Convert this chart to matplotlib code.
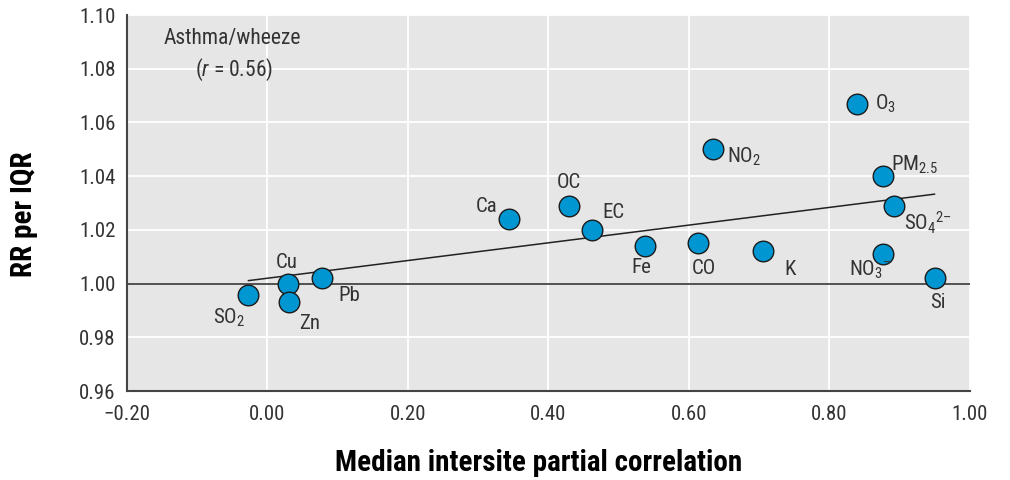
import matplotlib
matplotlib.use("Agg")
import matplotlib.pyplot as plt
from matplotlib import font_manager

names = {f.name for f in font_manager.fontManager.ttflist}
FONT = next((n for n in ["Roboto Condensed", "PT Sans Narrow", "Archivo Narrow",
                         "Liberation Sans"] if n in names), "DejaVu Sans")
plt.rcParams['font.family'] = [FONT, 'DejaVu Sans']
plt.rcParams['mathtext.fontset'] = 'custom'
plt.rcParams['mathtext.rm'] = FONT
plt.rcParams['mathtext.it'] = FONT + ':italic'

# ---- data ----
pollutants = ["SO2", "Cu", "Zn", "Pb", "Ca", "OC", "EC", "Fe", "CO", "NO2", "K",
              "O3", "PM2.5", "SO4", "NO3", "Si"]
labels = ["SO$_2$", "Cu", "Zn", "Pb", "Ca", "OC", "EC", "Fe", "CO", "NO$_2$", "K",
          "O$_3$", "PM$_{2.5}$", "SO$_4$$^{2\u2013}$", "NO$_3$$^{\u2013}$", "Si"]
corr = [-0.027, 0.030, 0.031, 0.078, 0.344, 0.429, 0.462, 0.538, 0.613, 0.634, 0.706,
        0.840, 0.876, 0.892, 0.876, 0.951]
rr = [0.9958, 1.000, 0.993, 1.002, 1.024, 1.029, 1.020, 1.014, 1.015, 1.050, 1.0123,
      1.067, 1.040, 1.029, 1.011, 1.002]
fit_x = [-0.027, 0.950]
fit_y = [1.0011, 1.0333]
xticks = [-0.20, 0.00, 0.20, 0.40, 0.60, 0.80, 1.00]
yticks = [0.96, 0.98, 1.00, 1.02, 1.04, 1.06, 1.08, 1.10]

# label offsets in pixels (layout)
offsets = {"SO2": (-19, -23), "Cu": (-2, 21), "Zn": (20, -21), "Pb": (27, -17),
           "Ca": (-22, 13), "OC": (0, 23), "EC": (22, 17), "Fe": (-4, -22),
           "CO": (6, -25), "NO2": (32, -8), "K": (27, -19), "O3": (28, 0),
           "PM2.5": (32, 11), "SO4": (34, -17), "NO3": (-12, -16), "Si": (3, -24)}

fig = plt.figure(figsize=(10.1, 4.8), dpi=100)
ax = fig.add_axes([0.1257, 0.1854, 0.8343, 0.7833])
ax.set_facecolor("#e6e6e6")
ax.set_xlim(-0.2, 1.0)
ax.set_ylim(0.96, 1.10)
ax.set_xticks(xticks)
ax.set_yticks(yticks)
ax.set_xticklabels(["\u22120.20"] + [f"{v:.2f}" for v in xticks[1:]])
ax.set_yticklabels([f"{v:.2f}" for v in yticks])
ax.tick_params(length=0, labelsize=15, colors="#333333")
ax.tick_params(axis="x", pad=10)
ax.tick_params(axis="y", pad=8)
ax.grid(True, color="white", linewidth=1.3)
ax.set_axisbelow(True)
for s in ["top", "right"]:
    ax.spines[s].set_visible(False)
for s in ["left", "bottom"]:
    ax.spines[s].set_color("#444444")
    ax.spines[s].set_linewidth(1.5)

ax.axhline(1.0, color="#444444", linewidth=1.3, zorder=2)
ax.plot(fit_x, fit_y, color="#222222", linewidth=1.1, zorder=2)
ax.scatter(corr, rr, s=220, color="#0096d2", edgecolor="#1a1a1a", linewidth=1.0, zorder=3)

for p, lab, x, y in zip(pollutants, labels, corr, rr):
    dx, dy = offsets[p]
    ax.annotate(lab, (x, y), xytext=(dx, dy), textcoords="offset pixels",
                ha="center", va="center", fontsize=15, color="#333333")

ax.text(-0.05, 1.0913, "Asthma/wheeze", ha="center", va="center", fontsize=15.5, color="#333333")
ax.text(-0.048, 1.0795, "($\\mathit{r}$ = 0.56)", ha="center", va="center", fontsize=15.5, color="#333333")

ax.set_xlabel("Median intersite partial correlation", fontsize=21, fontweight="bold")
ax.set_ylabel("RR per IQR", fontsize=21, fontweight="bold")
ax.xaxis.set_label_coords(0.488, -0.155)
ax.yaxis.set_label_coords(-0.105, 0.47)

fig.savefig("out.png", dpi=100)
